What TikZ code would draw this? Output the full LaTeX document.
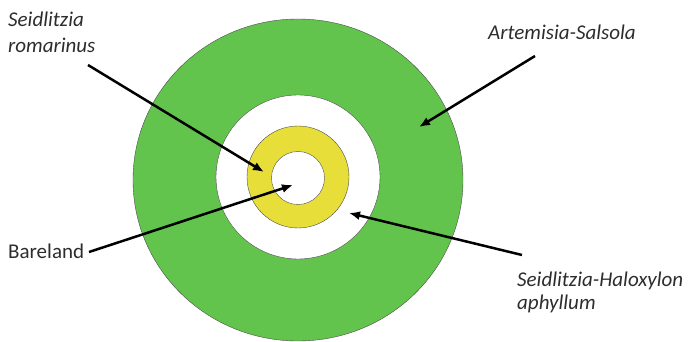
\documentclass[tikz,border=0pt]{standalone}
\usepackage{fontspec}
\setmainfont{Carlito}
\usetikzlibrary{calc,shapes,arrows.meta}
\tikzstyle{every picture}=[->,>={Latex[length=11pt,width=9pt]}]
\definecolor{ringgreen}{RGB}{98,196,76}
\definecolor{ringyellow}{RGB}{232,222,58}
\definecolor{labelgray}{RGB}{45,45,45}

\begin{document}
\begin{tikzpicture}[x=1pt,y=-1pt]
{
\useasboundingbox (0,0) rectangle (691,342);

% rings
\coordinate (o) at (298,180);
\path[-, draw=black!70, fill=ringgreen] (o) ellipse [x radius=165pt, y radius=161pt];
\path[-, draw=black!70, fill=white] (298,177) circle [radius=82pt];
\path[-, draw=black!70, fill=ringyellow] (298,177) circle [radius=51pt];
\path[-, draw=black!70, fill=white] (298,178) circle [radius=26.5pt];

\begin{scope}[every node/.style={text=labelgray,font=\fontsize{21}{26}\selectfont,align=left,inner sep=0pt,anchor=base west}]
    \node(sr) at (8,53) {\textit{Seidlitzia}\\\textit{romarinus}};
    \node(as) at (488,40) {\textit{Artemisia-Salsola}};
    \node(bl) at (8,258) {Bareland};
    \node[font=\fontsize{21}{23}\selectfont](sh) at (517,309) {\textit{Seidlitzia-Haloxylon}\\\textit{aphyllum}};
\end{scope}

\coordinate (srtail) at (88,65);
\coordinate (srtip) at (264,172);
\coordinate (astail) at (535,56);
\coordinate (astip) at (419,127);
\coordinate (bltail) at (89,252);
\coordinate (bltip) at (293,185);
\coordinate (shtail) at (522,255);
\coordinate (shtip) at (349,213);

\path[draw, line width=2.5pt] (srtail) -- (srtip);
\path[draw, line width=2.5pt] (astail) -- (astip);
\path[draw, line width=2.5pt] (bltail) -- (bltip);
\path[draw, line width=2.5pt] (shtail) -- (shtip);
}
\end{tikzpicture}
\end{document}
